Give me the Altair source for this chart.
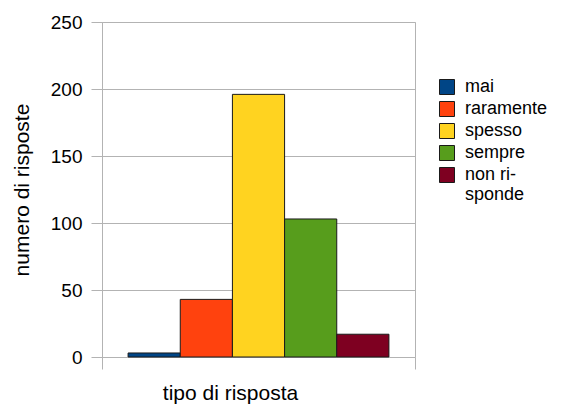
import altair as alt
import pandas as pd

categories = ["mai", "raramente", "spesso", "sempre", "non ri-|sponde"]
values = [3, 43, 196, 103, 17]
colors = ["#004586", "#ff420e", "#ffd320", "#579d1c", "#7e0021"]
y_ticks = [0, 50, 100, 150, 200, 250]
x_bounds = [0, 1]

bars_df = pd.DataFrame({"tipo": categories, "n": values})
bounds_df = pd.DataFrame({"b": x_bounds})

FONT = "Liberation Sans"
GRID = "#b3b3b3"

bars = alt.Chart(bars_df).mark_bar(stroke="#1a1a1a", strokeWidth=1).encode(
    x=alt.X("tipo:N", sort=categories,
            scale=alt.Scale(paddingInner=0, paddingOuter=0.5), axis=None),
    y=alt.Y("n:Q", scale=alt.Scale(domain=[0, 250], nice=False),
            axis=alt.Axis(values=y_ticks, title="numero di risposte",
                          grid=True, gridColor=GRID, domainColor=GRID,
                          tickColor=GRID, tickSize=11, labelPadding=9,
                          labelFont=FONT, labelFontSize=19, labelColor="black",
                          titleFont=FONT, titleFontSize=21, titleFontWeight="normal",
                          titleColor="black", titleX=-70)),
    color=alt.Color("tipo:N", sort=categories,
                    scale=alt.Scale(domain=categories, range=colors),
                    legend=alt.Legend(title=None, orient="none", legendX=336, legendY=56,
                                      symbolType="square", symbolSize=225,
                                      symbolStrokeColor="#1a1a1a", symbolStrokeWidth=1,
                                      labelFont=FONT, labelFontSize=18, labelColor="black",
                                      labelOffset=9, rowPadding=2, padding=0,
                                      labelExpr="split(datum.label, '|')")),
)

frame = alt.Chart(bounds_df).mark_point(opacity=0).encode(
    x=alt.X("b:Q", scale=alt.Scale(domain=[0, 1], nice=False),
            axis=alt.Axis(values=x_bounds, labels=False, grid=True, gridColor=GRID,
                          domain=False, tickColor=GRID, tickSize=12,
                          title="tipo di risposta", titleFont=FONT, titleFontSize=21,
                          titleFontWeight="normal", titleColor="black",
                          titleX=128, titleY=42, titleBaseline="alphabetic")),
)

chart = alt.layer(frame, bars).resolve_scale(x="independent").properties(
    width=313, height=335,
    autosize=alt.AutoSizeParams(type="none"),
    padding={"left": 94, "top": 14, "right": 140, "bottom": 47},
).configure_view(stroke=None).configure(background="white")

chart.save("out.html", embed_options={"renderer": "svg", "actions": False})
